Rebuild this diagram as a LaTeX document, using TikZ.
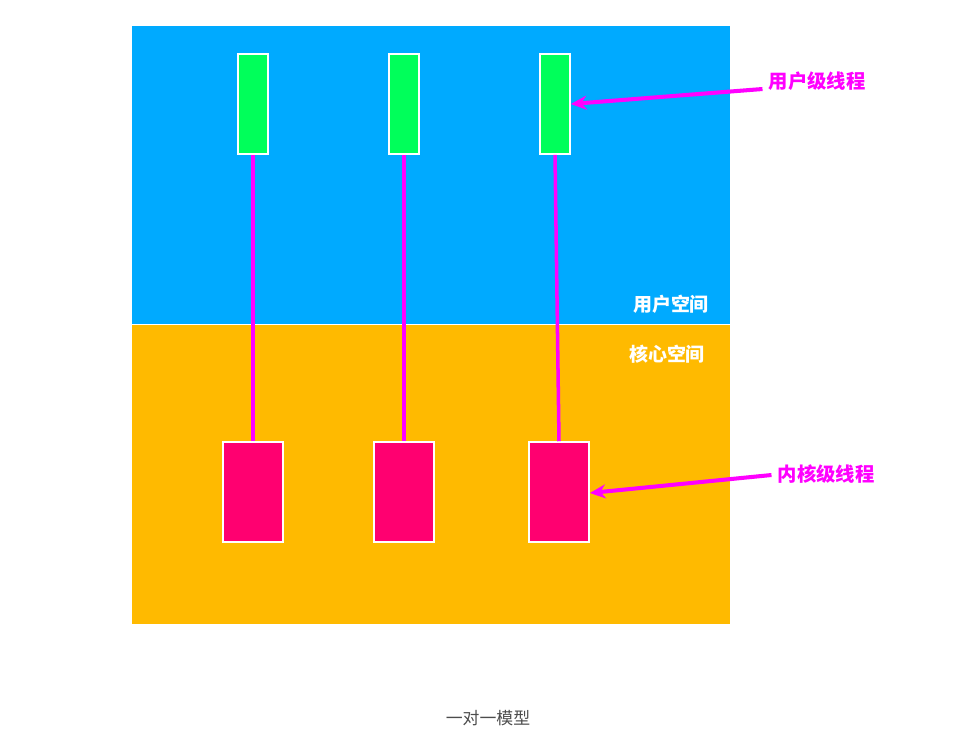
\documentclass[tikz,border=0pt]{standalone}
\usepackage{fontspec}
\usepackage{xcolor}
\usepackage{tikz}
\usetikzlibrary{arrows.meta, positioning}
\newfontfamily\cjk{Noto Sans CJK SC}
\definecolor{userblue}{HTML}{00AAFF}
\definecolor{kernorange}{HTML}{FFBA00}
\definecolor{ugreen}{HTML}{00FF5A}
\definecolor{kpink}{HTML}{FF0070}
\definecolor{mag}{HTML}{FF00FF}

\begin{document}
\begin{tikzpicture}[x=0.02cm,y=-0.02cm]
        \useasboundingbox (0,0) rectangle (976,752);
        % the two spaces
        \fill[userblue] (132,26) rectangle (730,324);
        \fill[kernorange] (132,325) rectangle (730,624);
        \begin{scope}[every node/.style={text=white,font=\cjk\bfseries\fontsize{10.8}{12}\selectfont}]
          \node (us) at (671,304) {用户空间};
          \node (ks) at (667,354) {核心空间};
        \end{scope}
        \begin{scope}[every node/.style={draw=white,line width=0.9pt,inner sep=0pt,minimum height=2cm}]
          \node[fill=ugreen,minimum width=0.6cm] (u1) at (253,104) {};
          \node[fill=ugreen,minimum width=0.6cm] (u2) at (404,104) {};
          \node[fill=ugreen,minimum width=0.6cm] (u3) at (555,104) {};
          \node[fill=kpink,minimum width=1.2cm] (k1) at (253,492) {};
          \node[fill=kpink,minimum width=1.2cm] (k2) at (404,492) {};
          \node[fill=kpink,minimum width=1.2cm] (k3) at (559,492) {};
        \end{scope}
        \begin{scope}[every edge/.style={draw=mag,line width=2pt}]
          \path (u1.south) edge (k1.north);
          \path (u2.south) edge (k2.north);
          \path (u3.south) edge (k3.north);
        \end{scope}
        \begin{scope}[every node/.style={text=mag,font=\cjk\bfseries\fontsize{11}{13}\selectfont}]
          \node (ulbl) at (817,81) {用户级线程};
          \node (klbl) at (826,474) {内核级线程};
        \end{scope}
        \begin{scope}[every edge/.style={draw=mag,line width=2.3pt,-{Stealth[length=9pt,width=8pt]}}]
          \path ([yshift=-0.16cm]ulbl.west) edge (u3.east);
          \path ([yshift=-0.02cm]klbl.west) edge ([yshift=-0.02cm]k3.east);
        \end{scope}
        \node[text=black!70,font=\cjk\fontsize{9.6}{11}\selectfont] (cap) at (488,718) {一对一模型};
      \end{tikzpicture}
\end{document}
